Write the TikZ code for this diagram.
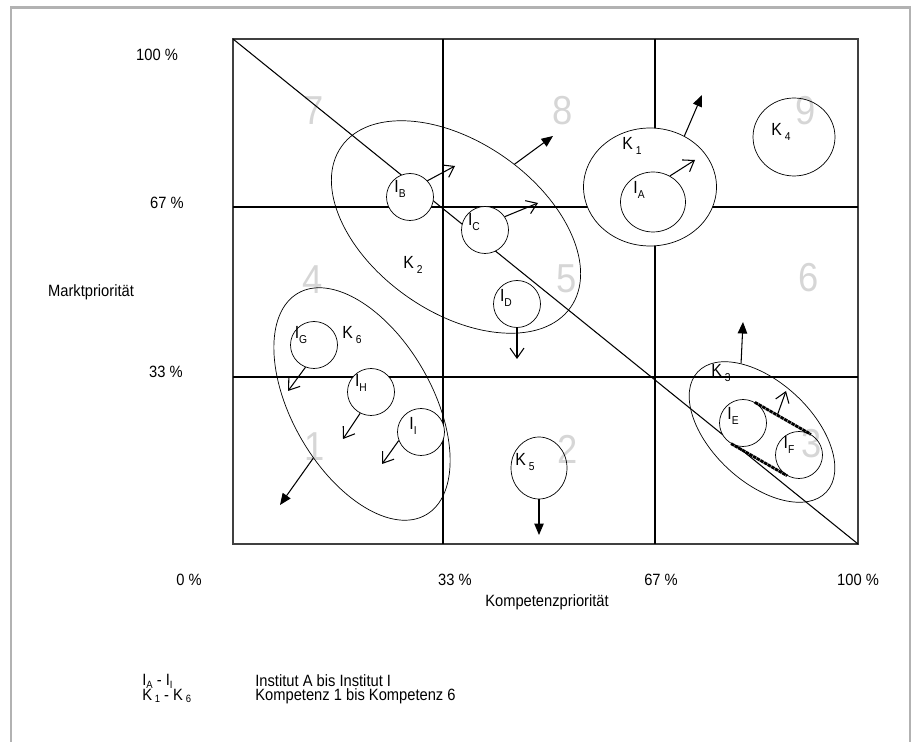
\documentclass[tikz,border=0pt]{standalone}
\usepackage{fontspec}
\setmainfont{Liberation Sans}[FakeStretch=0.9]
\usetikzlibrary{positioning,arrows.meta,shapes.geometric}
\newcommand{\ix}[1]{\raisebox{-0.5ex}{\fontsize{6.5}{6.5}\selectfont #1}}
\newcommand{\ixl}[1]{\raisebox{-0.3ex}{\fontsize{6}{6}\selectfont #1}}
\newcommand{\tightlines}{\setlength{\lineskiplimit}{-20pt}}

\begin{document}
\begin{tikzpicture}[x=0.02cm,y=-0.02cm,
  every node/.style={font=\fontsize{9.3}{11}\selectfont,inner sep=0pt},
  feld/.style={font=\fontsize{23}{23}\selectfont,text=black!16},
  inst/.style={circle,draw,fill=white,minimum size=0.94cm},
  komp/.style={ellipse,draw},
  lbl/.style={font=\fontsize{10}{11}\selectfont},
  legend/.style={anchor=north west,align=left,
    font={\fontsize{9.3}{8.4}\selectfont\tightlines}},
  open/.style={-{Straight Barb[length=2mm,width=2.8mm]},line width=0.6pt},
  fat/.style={-{Triangle[length=2.3mm,width=1.9mm]},line width=0.6pt},
  band/.style={line width=1.6pt,dash pattern=on 2pt off 0.4pt}]
\useasboundingbox (0,0) rectangle (912,742);
\draw[gray!60,line width=1.2pt] (11,742) -- (11,7.5) -- (910,7.5) -- (910,742);

% fields 1-9
\foreach \d/\x/\y in {1/315/447,2/568/449,3/812/444,4/313/280,5/567/279,
  6/809/278,7/314/111,8/563/111,9/806/111}
  \node[feld] (f\d) at (\x,\y) {\d};

% portfolio grid
\coordinate (tl) at (233,39);
\coordinate (br) at (858,544);
\draw[black!75,line width=1pt] (tl) rectangle (br);
\draw[line width=0.6pt] (443,39) -- (443,544) (655,39) -- (655,544)
  (233,207) -- (858,207) (233,377) -- (858,377);
\draw[line width=0.6pt] (tl) -- (br);

% axes
\node (y100) at (157,55) {100 \%};
\node[anchor=east] (y67) at (184,203) {67 \%};
\node[anchor=east] (y33) at (183,372) {33 \%};
\node (ylab) at (91,292) {Marktpriorität};
\node (x0) at (189,580) {0 \%};
\node (x33) at (455,580) {33 \%};
\node (x67) at (661,580) {67 \%};
\node (x100) at (858,580) {100 \%};
\node (xlab) at (547,602) {Kompetenzpriorität};

% competences
\node[komp,minimum width=5.6cm,minimum height=3.4cm,rotate=-35] (k2) at (456,227) {};
\node[komp,minimum width=5.12cm,minimum height=2.8cm,rotate=-60] (k6) at (362,404) {};
\node[komp,minimum width=3.52cm,minimum height=2cm,rotate=-43] (k3) at (762,432) {};
\node[komp,fill=white,minimum width=2.66cm,minimum height=2.36cm] (k1) at (650,187) {};
\node[komp,minimum width=1.64cm,minimum height=1.56cm] (k4) at (794,137) {};
\node[komp,minimum width=1.12cm,minimum height=1.24cm] (k5) at (539,468) {};

% institutes
\node[komp,fill=white,minimum width=1.3cm,minimum height=1.2cm] (ia) at (653,202) {};
\node[inst] (ib) at (410,197) {};
\node[inst] (ic) at (485,230) {};
\node[inst] (id) at (517,304) {};
\node[inst] (ie) at (743,423) {};
\node[inst,fill=none] (if) at (799,455) {};
\node[inst] (ig) at (314,345) {};
\node[inst] (ih) at (371,392) {};
\node[inst] (ii) at (421,432) {};

% labels
\node[lbl] (la) at (639,190) {I\ix{A}};
\node[lbl] (lb) at (400,189) {I\ix{B}};
\node[lbl] (lc) at (474,222) {I\ix{C}};
\node[lbl] (ld) at (506,298) {I\ix{D}};
\node[lbl] (le) at (733,416) {I\ix{E}};
\node[lbl] (lf) at (789,445) {I\ix{F}};
\node[lbl] (lg) at (301,335) {I\ix{G}};
\node[lbl] (lh) at (361,383) {I\ix{H}};
\node[lbl] (li) at (413,426) {I\ix{I}};
\node[lbl] (lk1) at (632,146) {K\,\ix{1}};
\node[lbl] (lk2) at (413,265) {K\,\ix{2}};
\node[lbl] (lk3) at (721,373) {K\,\ix{3}};
\node[lbl] (lk4) at (781,132) {K\,\ix{4}};
\node[lbl] (lk5) at (525,462) {K\,\ix{5}};
\node[lbl] (lk6) at (352,335) {K\,\ix{6}};

% E and F joined
\draw[band] (ie.60) -- coordinate[pos=0.4] (ef) (if.60);
\draw[band] (ie.240) -- (if.240);

% movements
\coordinate (ta) at (695,160);
\coordinate (tb) at (455,166);
\coordinate (tc) at (538,203);
\coordinate (td) at (517,359);
\coordinate (tef) at (786,391);
\coordinate (tg) at (288,391);
\coordinate (th) at (343,439);
\coordinate (ti) at (382,464);
\coordinate (tk1) at (702,95);
\coordinate (tk2) at (553,136);
\coordinate (tk3) at (743,322);
\coordinate (tk5) at (539,535);
\coordinate (tk6) at (280,505);
\draw[open] (ia.57) -- (ta);
\draw[open] (ib.43) -- (tb);
\draw[open] (ic.34) -- (tc);
\draw[open] (id.south) -- (td);
\draw[open] (ef) -- (tef);
\draw[open] (ig.249) -- (tg);
\draw[open] (ih.243) -- (th);
\draw[open] (ii.201) -- (ti);
\draw[fat] (k1.56) -- (tk1);
\draw[fat] (k2.82) -- (tk2);
\draw[fat] (k3.150) -- (tk3);
\draw[fat] (k5.south) -- (tk5);
\draw[fat] (k6.288) -- (tk6);

% legend
\node[legend] (keys) at (142,674) {I\ixl{A} - I\ixl{I}\\K\,\ixl{1} - K\,\ixl{6}};
\node[legend] (meaning) at (255,674) {Institut A bis Institut I\\Kompetenz 1 bis Kompetenz 6};
\end{tikzpicture}
\end{document}
